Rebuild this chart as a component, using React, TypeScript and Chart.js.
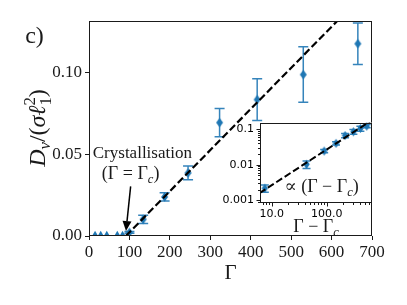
import React, { useEffect, useRef } from "react";
import { Chart, registerables } from "chart.js";
Chart.register(...registerables);

const SERIF = "'Liberation Serif', 'DejaVu Serif', serif";
const SANS = "'DejaVu Sans', sans-serif";
const BLUE = "#1f77b4";
const ERR = "rgba(31,119,180,0.9)";
const INK = "#1a1a1a";

// ---- main panel data ----
const gammaFluid = [15, 29, 44, 70, 83];
const dFluid = [0, 0, 0, 0, 0];
const gammaSolid = [100, 134, 187, 245, 323, 416, 530, 665];
const dSolid = [0.0022, 0.0102, 0.0239, 0.0386, 0.0694, 0.0835, 0.0988, 0.1177];
const dSolidErr = [0.0005, 0.0025, 0.0025, 0.0042, 0.0086, 0.0128, 0.017, 0.0127];
const fitGamma = [91, 614];
const fitD = [0, 0.1316];
const xTickValues = [0, 100, 200, 300, 400, 500, 600, 700];
const yTickValues = [0, 0.05, 0.1];
const yTickLabels = ["0.00", "0.05", "0.10"];

// ---- inset data ----
const insetDeltaGamma = [7.5, 43, 90, 148, 216, 306, 410, 534];
const insetD = [0.0022, 0.0103, 0.0242, 0.0398, 0.066, 0.084, 0.104, 0.121];
const insetErr = [0.0005, 0.0025, 0.0025, 0.0042, 0.0086, 0.0128, 0.017, 0.0127];
const insetFitX = [6, 700];
const insetFitY = [0.0016, 0.187];
const insetXTickValues = [10, 100];
const insetXTickLabels = ["10.0", "100.0"];
const insetYTickValues = [0.001, 0.01, 0.1];
const insetYTickLabels = ["0.001", "0.01", "0.1"];

type Piece = { t: string; it?: boolean; s?: number; dy?: number; stack?: boolean };

function fnt(p: Piece, base: number) {
  return `${p.it ? "italic " : ""}${(p.s ?? 1) * base}px ${SERIF}`;
}

function drawRich(ctx: CanvasRenderingContext2D, pieces: Piece[], cx: number, baseY: number, base: number) {
  const placed: { p: Piece; x: number }[] = [];
  let x = 0, prevX = 0, prevW = 0;
  for (const p of pieces) {
    ctx.font = fnt(p, base);
    const w = ctx.measureText(p.t).width;
    if (p.stack) {
      placed.push({ p, x: prevX });
      x = Math.max(prevX + prevW, prevX + w);
      prevW = Math.max(prevW, w);
    } else {
      placed.push({ p, x });
      prevX = x;
      prevW = w;
      x += w;
    }
  }
  const x0 = cx - x / 2;
  ctx.save();
  ctx.fillStyle = INK;
  ctx.textAlign = "left";
  ctx.textBaseline = "alphabetic";
  for (const { p, x: px } of placed) {
    ctx.font = fnt(p, base);
    ctx.fillText(p.t, x0 + px, baseY + (p.dy ?? 0) * base);
  }
  ctx.restore();
}

function makeDiamond(w: number, h: number, color: string) {
  const c = document.createElement("canvas");
  c.width = Math.ceil(w) + 2;
  c.height = Math.ceil(h) + 2;
  const g = c.getContext("2d")!;
  const cx = c.width / 2, cy = c.height / 2;
  g.fillStyle = color;
  g.beginPath();
  g.moveTo(cx, cy - h / 2);
  g.lineTo(cx + w / 2, cy);
  g.lineTo(cx, cy + h / 2);
  g.lineTo(cx - w / 2, cy);
  g.closePath();
  g.fill();
  return c;
}

function errorBarPlugin(id: string, xs: number[], ys: number[], errs: number[], cap: number) {
  return {
    id,
    beforeDatasetsDraw(chart: any) {
      const { ctx, chartArea: a, scales } = chart;
      ctx.save();
      ctx.beginPath();
      ctx.rect(a.left, a.top, a.right - a.left, a.bottom - a.top);
      ctx.clip();
      ctx.strokeStyle = ERR;
      ctx.lineWidth = 1.5;
      xs.forEach((xv, i) => {
        const px = scales.x.getPixelForValue(xv);
        const lo = Math.max(ys[i] - errs[i], 1e-6);
        const hi = ys[i] + errs[i];
        const p1 = scales.y.getPixelForValue(lo);
        const p2 = scales.y.getPixelForValue(hi);
        ctx.beginPath();
        ctx.moveTo(px, p1);
        ctx.lineTo(px, p2);
        ctx.moveTo(px - cap, p1);
        ctx.lineTo(px + cap, p1);
        ctx.moveTo(px - cap, p2);
        ctx.lineTo(px + cap, p2);
        ctx.stroke();
      });
      ctx.restore();
    },
  };
}

function logMarks(min: number, max: number) {
  const out: { v: number; major: boolean }[] = [];
  for (let e = Math.floor(Math.log10(min)); e <= Math.ceil(Math.log10(max)); e++) {
    for (let k = 1; k < 10; k++) {
      const v = k * Math.pow(10, e);
      if (v >= min && v <= max) out.push({ v, major: k === 1 });
    }
  }
  return out;
}

export default function App() {
  const mainRef = useRef<HTMLCanvasElement>(null);
  const insetRef = useRef<HTMLCanvasElement>(null);

  useEffect(() => {
    const diamond = makeDiamond(7, 9.5, BLUE);
    const diamondSmall = makeDiamond(6.5, 9, BLUE);

    const framePlugin = {
      id: "frame",
      afterDatasetsDraw(chart: any) {
        const { ctx, chartArea: a } = chart;
        ctx.save();
        ctx.strokeStyle = INK;
        ctx.lineWidth = 1;
        ctx.strokeRect(Math.round(a.left) + 0.5, Math.round(a.top) + 0.5, Math.round(a.right - a.left) - 1, Math.round(a.bottom - a.top) - 1);
        ctx.restore();
      },
    };

    const mainText = {
      id: "mainText",
      afterDraw(chart: any) {
        const { ctx, chartArea: a, scales } = chart;
        const X = (v: number) => scales.x.getPixelForValue(v);
        const Y = (v: number) => scales.y.getPixelForValue(v);
        // panel tag
        drawRich(ctx, [{ t: "c)" }], 34.5, 43, 24);
        // x title
        drawRich(ctx, [{ t: "Γ" }], (a.left + a.right) / 2, 279, 21);
        // y title (rotated)
        ctx.save();
        ctx.translate(45, 128);
        ctx.rotate(-Math.PI / 2);
        drawRich(
          ctx,
          [
            { t: "D", it: true },
            { t: "v", it: true, s: 0.7, dy: 0.22 },
            { t: "/(" },
            { t: "σ", it: true },
            { t: "ℓ", it: true },
            { t: "1", s: 0.7, dy: 0.25 },
            { t: "2", s: 0.7, dy: -0.42, stack: true },
            { t: ")" },
          ],
          0,
          0,
          24
        );
        ctx.restore();
        // annotation
        drawRich(ctx, [{ t: "Crystallisation" }], X(132), Y(0.0477), 17);
        drawRich(ctx, [{ t: "(Γ = Γ" }, { t: "c", it: true, s: 0.7, dy: 0.2 }, { t: ")" }], X(103), Y(0.0349), 18);
        const x1 = X(103), y1 = Y(0.0304), x2 = X(91.5), y2 = Y(0.003);
        const ang = Math.atan2(y2 - y1, x2 - x1);
        const hl = 10, hw = 4.5;
        const bx = x2 - hl * Math.cos(ang), by = y2 - hl * Math.sin(ang);
        ctx.save();
        ctx.strokeStyle = "#000";
        ctx.fillStyle = "#000";
        ctx.lineWidth = 1.5;
        ctx.beginPath();
        ctx.moveTo(x1, y1);
        ctx.lineTo(bx, by);
        ctx.stroke();
        ctx.beginPath();
        ctx.moveTo(x2, y2);
        ctx.lineTo(bx + hw * Math.sin(ang), by - hw * Math.cos(ang));
        ctx.lineTo(bx - hw * Math.sin(ang), by + hw * Math.cos(ang));
        ctx.closePath();
        ctx.fill();
        ctx.restore();
      },
    };

    const main = new Chart(mainRef.current!, {
      type: "scatter",
      data: {
        datasets: [
          {
            data: fitGamma.map((x, i) => ({ x, y: fitD[i] })),
            showLine: true,
            borderColor: "#000",
            borderWidth: 2.2,
            borderDash: [7.4, 3.2],
            pointRadius: 0,
            clip: 0,
          } as any,
          {
            data: gammaSolid.map((x, i) => ({ x, y: dSolid[i] })),
            pointStyle: diamond,
            pointRadius: 4.5,
            backgroundColor: BLUE,
            borderWidth: 0,
            clip: 0,
          } as any,
          {
            data: gammaFluid.map((x, i) => ({ x, y: dFluid[i] })),
            pointStyle: "triangle",
            pointRadius: 5.2,
            backgroundColor: BLUE,
            borderColor: BLUE,
            borderWidth: 0,
            clip: 0,
          } as any,
        ],
      },
      options: {
        animation: false,
        responsive: false,
        devicePixelRatio: 1,
        layout: { padding: { left: 0, top: 21, right: 35, bottom: 0 } },
        plugins: { legend: { display: false }, tooltip: { enabled: false } },
        scales: {
          x: {
            type: "linear",
            min: 0,
            max: 700,
            afterBuildTicks: (s: any) => {
              s.ticks = xTickValues.map((v) => ({ value: v }));
            },
            afterFit: (s: any) => {
              s.height = 69;
            },
            grid: { drawOnChartArea: false, tickLength: 4, color: INK, lineWidth: 1 },
            border: { display: false },
            ticks: {
              font: { family: SERIF, size: 17 },
              color: INK,
              padding: 2,
              maxRotation: 0,
              autoSkip: false,
              callback: (v: any) => String(v),
            },
          },
          y: {
            type: "linear",
            min: 0,
            max: 0.1316,
            afterBuildTicks: (s: any) => {
              s.ticks = yTickValues.map((v) => ({ value: v }));
            },
            afterFit: (s: any) => {
              s.width = 89;
            },
            grid: { drawOnChartArea: false, tickLength: 4, color: INK, lineWidth: 1 },
            border: { display: false },
            ticks: {
              font: { family: SERIF, size: 17 },
              color: INK,
              padding: 3,
              autoSkip: false,
              callback: (_v: any, i: number) => yTickLabels[i],
            },
          },
        },
      },
      plugins: [errorBarPlugin("eb", gammaSolid, dSolid, dSolidErr, 5), framePlugin, mainText],
    } as any);

    const insetBg = {
      id: "insetBg",
      beforeDraw(chart: any) {
        const { ctx, chartArea: a } = chart;
        ctx.save();
        ctx.fillStyle = "#fff";
        ctx.fillRect(a.left, a.top, a.right - a.left, a.bottom - a.top);
        ctx.restore();
      },
    };

    const insetMarks = {
      id: "insetMarks",
      afterDatasetsDraw(chart: any) {
        const { ctx, chartArea: a, scales } = chart;
        ctx.save();
        ctx.strokeStyle = INK;
        ctx.lineWidth = 1;
        ctx.beginPath();
        for (const m of logMarks(scales.x.min, scales.x.max)) {
          const px = Math.round(scales.x.getPixelForValue(m.v)) + 0.5;
          ctx.moveTo(px, a.bottom);
          ctx.lineTo(px, a.bottom + (m.major ? 3.5 : 2));
        }
        for (const m of logMarks(scales.y.min, scales.y.max)) {
          const py = Math.round(scales.y.getPixelForValue(m.v)) + 0.5;
          ctx.moveTo(a.left, py);
          ctx.lineTo(a.left - (m.major ? 3.5 : 2), py);
        }
        ctx.stroke();
        ctx.restore();
      },
    };

    const insetText = {
      id: "insetText",
      afterDraw(chart: any) {
        const { ctx, chartArea: a, scales } = chart;
        drawRich(
          ctx,
          [{ t: "∝ (Γ − Γ" }, { t: "c", it: true, s: 0.7, dy: 0.2 }, { t: ")" }],
          scales.x.getPixelForValue(81),
          scales.y.getPixelForValue(0.00168),
          18
        );
        drawRich(
          ctx,
          [{ t: "Γ − Γ" }, { t: "c", it: true, s: 0.7, dy: 0.2 }],
          (a.left + a.right) / 2,
          a.bottom + 29,
          18
        );
      },
    };

    const inset = new Chart(insetRef.current!, {
      type: "scatter",
      data: {
        datasets: [
          {
            data: insetFitX.map((x, i) => ({ x, y: insetFitY[i] })),
            showLine: true,
            borderColor: "#000",
            borderWidth: 2,
            borderDash: [7, 3],
            pointRadius: 0,
            clip: 0,
          } as any,
          {
            data: insetDeltaGamma.map((x, i) => ({ x, y: insetD[i] })),
            pointStyle: diamondSmall,
            pointRadius: 4.5,
            backgroundColor: BLUE,
            borderWidth: 0,
            clip: 0,
          } as any,
        ],
      },
      options: {
        animation: false,
        responsive: false,
        devicePixelRatio: 1,
        layout: { padding: { left: 0, top: 12.5, right: 8, bottom: 0 } },
        plugins: { legend: { display: false }, tooltip: { enabled: false } },
        scales: {
          x: {
            type: "logarithmic",
            min: 6.13,
            max: 667,
            afterBuildTicks: (s: any) => {
              s.ticks = insetXTickValues.map((v) => ({ value: v }));
            },
            afterFit: (s: any) => {
              s.height = 37;
            },
            grid: { display: false, drawTicks: false },
            border: { display: false },
            ticks: {
              font: { family: SANS, size: 11 },
              color: "#000",
              padding: 5,
              maxRotation: 0,
              autoSkip: false,
              callback: (_v: any, i: number) => insetXTickLabels[i],
            },
          },
          y: {
            type: "logarithmic",
            min: 0.000846,
            max: 0.152,
            afterBuildTicks: (s: any) => {
              s.ticks = insetYTickValues.map((v) => ({ value: v }));
            },
            afterFit: (s: any) => {
              s.width = 60;
            },
            grid: { display: false, drawTicks: false },
            border: { display: false },
            ticks: {
              font: { family: SANS, size: 11 },
              color: "#000",
              padding: 6,
              autoSkip: false,
              callback: (_v: any, i: number) => insetYTickLabels[i],
            },
          },
        },
      },
      plugins: [insetBg, errorBarPlugin("ebi", insetDeltaGamma, insetD, insetErr, 4), framePlugin, insetMarks, insetText],
    } as any);

    return () => {
      main.destroy();
      inset.destroy();
    };
  }, []);

  return (
    <div style={{ position: "absolute", left: 0, top: 0, width: 407, height: 305, background: "#fff" }}>
      <canvas ref={mainRef} width={407} height={305} style={{ position: "absolute", left: 0, top: 0, width: 407, height: 305 }} />
      <canvas ref={insetRef} width={180} height={130} style={{ position: "absolute", left: 200, top: 110, width: 180, height: 130 }} />
    </div>
  );
}
